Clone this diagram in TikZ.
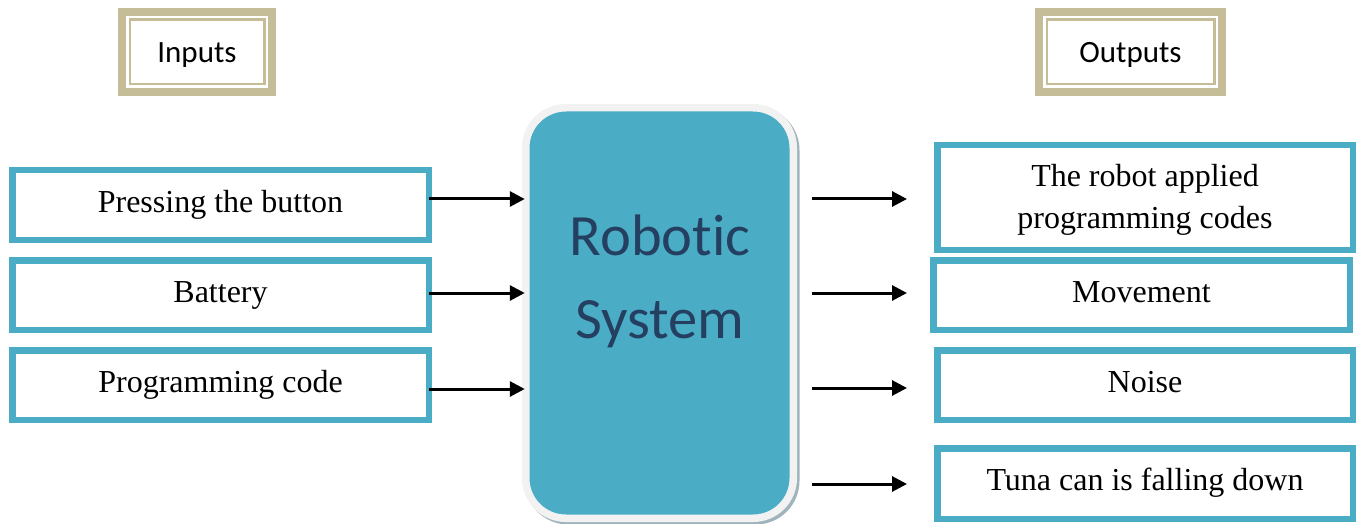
\documentclass[tikz,border=0pt]{standalone}
\usepackage{fontspec}
\setmainfont{Liberation Serif}
\newfontfamily\calibri[Ligatures=NoCommon]{Carlito}
\usetikzlibrary{arrows.meta}
\definecolor{boxblue}{RGB}{75,172,198}
\definecolor{tanframe}{RGB}{196,189,151}
\definecolor{rimgrey}{RGB}{242,242,242}
\definecolor{rimshadow}{RGB}{160,180,188}
\definecolor{navytext}{RGB}{36,63,96}
\begin{document}
\begin{tikzpicture}[x=1pt,y=-1pt,
  iobox/.style={draw=boxblue, line width=6.5pt, fill=white, inner sep=0pt, outer sep=0pt,
    minimum width=416.5pt, minimum height=69.5pt, align=center,
    font=\fontsize{32}{41}\selectfont},
  oneline/.style={text height=21pt, text depth=7pt},
  % two-line text: height is counted from the last baseline
  twoline/.style={text height=68pt, text depth=7pt},
  headbox/.style={draw=tanframe, line width=2.5pt, fill=white, inner sep=0pt, outer sep=0pt,
    minimum height=64.5pt, font=\calibri\fontsize{31}{37}\selectfont,
    text height=21pt, text depth=0pt},
  headframe/.style={draw=tanframe, line width=8pt},
  sysbox/.style={fill=boxblue, draw=rimgrey, line width=7.5pt, rounded corners=40pt,
    minimum width=267.5pt, minimum height=410.5pt, inner sep=0pt, outer sep=0pt,
    preaction={fill=rimshadow, draw=rimshadow, line width=7.5pt,
      transform canvas={xshift=2.5pt, yshift=-2.5pt}}},
  systext/.style={font=\calibri\fontsize{58.5}{83}\selectfont, text=navytext, align=center},
  arr/.style={-{Triangle[length=15pt,width=15pt]}, line width=3pt, black},
]
\useasboundingbox (0,0) rectangle (1361,524);

% column headings with a double tan frame
\node[headbox, minimum width=134.5pt] (inhead) at (197,52) {Inputs};
\draw[headframe] ([shift={(-7.75pt,7.75pt)}]inhead.north west) rectangle ([shift={(7.75pt,-7.75pt)}]inhead.south east);
\node[headbox, minimum width=167.5pt] (outhead) at (1130.5,52) {Outputs};
\draw[headframe] ([shift={(-7.75pt,7.75pt)}]outhead.north west) rectangle ([shift={(7.75pt,-7.75pt)}]outhead.south east);

% the system block; the label's base is the baseline of its last line
\node[sysbox] (sys) at (659.5,313) {};
\node[systext, anchor=base] (systxt) at (660,338) {Robotic\\System};

% inputs
\node[iobox, oneline] (in1) at (220.5,205) {Pressing the button};
\node[iobox, oneline] (in2) at (220.5,295) {Battery};
\node[iobox, oneline] (in3) at (220.5,385) {Programming code};

% outputs
\node[iobox, twoline, minimum width=415.5pt, minimum height=104.5pt] (out1) at (1145,197.5) {The robot applied\\programming codes};
\node[iobox, oneline] (out2) at (1141.5,295) {Movement};
\node[iobox, oneline, minimum width=415.5pt] (out3) at (1145,385) {Noise};
\node[iobox, oneline, minimum width=415.5pt, minimum height=70.5pt] (out4) at (1145,483.5) {Tuna can is falling down};

% input arrows
\draw[arr] ([yshift=6pt]in1.east) -- ([xshift=-1pt,yshift=6pt]sys.west |- in1.east);
\draw[arr] ([yshift=2pt]in2.east) -- ([xshift=-1pt,yshift=2pt]sys.west |- in2.east);
\draw[arr] ([yshift=-4pt]in3.east) -- ([xshift=-1pt,yshift=-4pt]sys.west |- in3.east);

% output arrows
\draw[arr] ([xshift=18.5pt,yshift=-1.5pt]sys.east |- out1.west) -- ([xshift=-30.25pt,yshift=-1.5pt]out1.west);
\draw[arr] ([xshift=18.5pt,yshift=2pt]sys.east |- out2.west) -- ([xshift=-26.25pt,yshift=2pt]out2.west);
\draw[arr] ([xshift=18.5pt,yshift=-3pt]sys.east |- out3.west) -- ([xshift=-30.25pt,yshift=-3pt]out3.west);
\draw[arr] ([xshift=18.5pt,yshift=-0.5pt]sys.east |- out4.west) -- ([xshift=-30.25pt,yshift=-0.5pt]out4.west);
\end{tikzpicture}
\end{document}
